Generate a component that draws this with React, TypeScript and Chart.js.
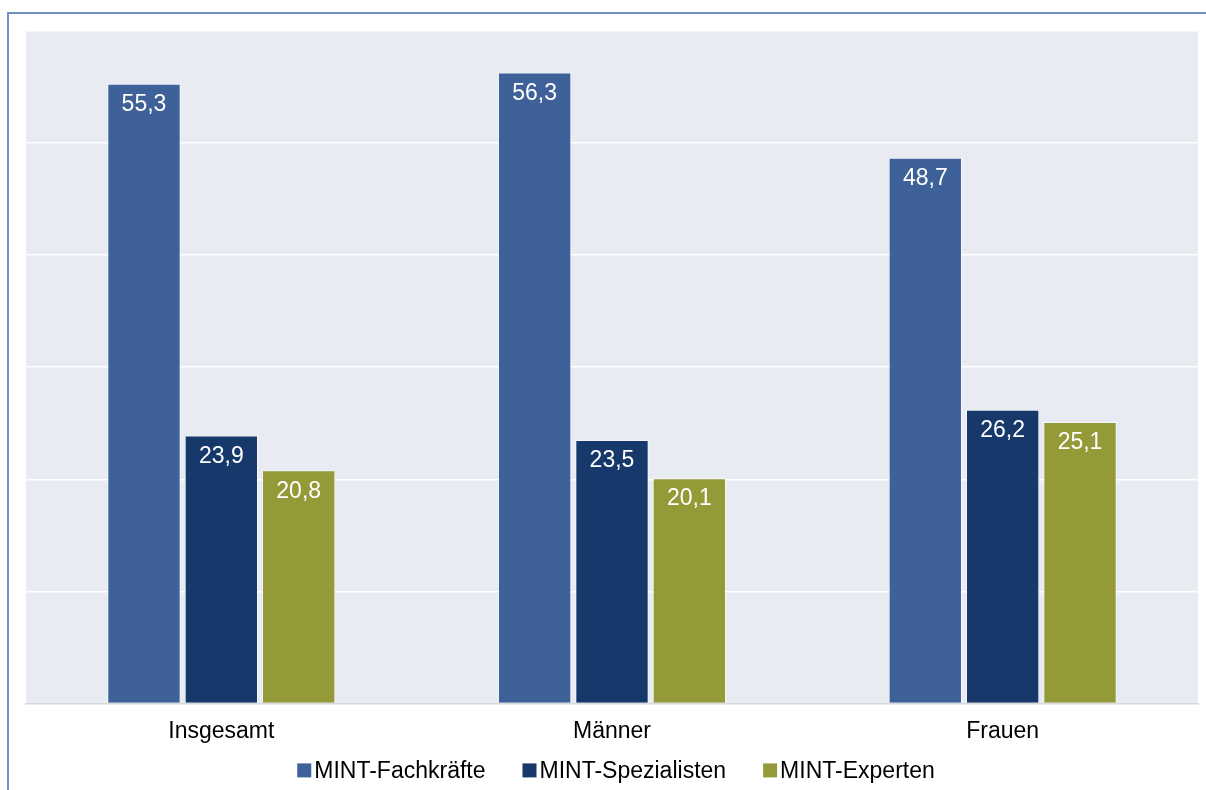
import React, { useEffect, useRef } from "react";
import { Chart, registerables } from "chart.js";

Chart.register(...registerables);

const categories = ["Insgesamt", "Männer", "Frauen"];
const seriesNames = ["MINT-Fachkräfte", "MINT-Spezialisten", "MINT-Experten"];
const fachkraefte = [55.3, 56.3, 48.7];
const spezialisten = [23.9, 23.5, 26.2];
const experten = [20.8, 20.1, 25.1];
const seriesColors = ["#3e6199", "#17386a", "#959a39"];
const yMin = 0;
const yMax = 60;
const yStep = 10;

const FONT = "'Liberation Sans', Arial, sans-serif";

const framePlugin = {
  id: "frame",
  beforeDraw(chart: any) {
    const { ctx, chartArea, width, height } = chart;
    ctx.save();
    ctx.fillStyle = "#ffffff";
    ctx.fillRect(0, 0, width, height);
    ctx.fillStyle = "#7090c2";
    ctx.fillRect(7, 12, width - 7, 2);
    ctx.fillRect(7, 12, 2, height - 12);
    ctx.fillStyle = "#e9ebf3";
    ctx.fillRect(chartArea.left, chartArea.top, chartArea.right - chartArea.left, chartArea.bottom - chartArea.top);
    ctx.restore();
  },
};

const valueLabelPlugin = {
  id: "valueLabels",
  afterDatasetsDraw(chart: any) {
    const { ctx } = chart;
    ctx.save();
    ctx.font = `23px ${FONT}`;
    ctx.fillStyle = "#ffffff";
    ctx.textAlign = "center";
    ctx.textBaseline = "middle";
    chart.data.datasets.forEach((ds: any, i: number) => {
      const meta = chart.getDatasetMeta(i);
      meta.data.forEach((bar: any, j: number) => {
        const v = ds.data[j];
        ctx.fillText(v.toFixed(1).replace(".", ","), bar.x, bar.y + 21);
      });
    });
    ctx.restore();
  },
};

const legendPlugin = {
  id: "customLegend",
  afterDraw(chart: any) {
    const { ctx, chartArea } = chart;
    ctx.save();
    ctx.font = `23px ${FONT}`;
    const box = 14;
    const gapText = 3;
    const gapItem = 37;
    const items = chart.data.datasets.map((d: any) => ({
      label: d.label,
      color: d.backgroundColor,
      w: ctx.measureText(d.label).width,
    }));
    const total =
      items.reduce((s: number, it: any) => s + box + gapText + it.w, 0) + gapItem * (items.length - 1);
    let x = (chartArea.left + chartArea.right) / 2 - total / 2 + 4;
    const y = chartArea.bottom + 67;
    ctx.textBaseline = "middle";
    ctx.textAlign = "left";
    items.forEach((it: any) => {
      ctx.fillStyle = it.color;
      ctx.fillRect(x, y - 7, box, box);
      ctx.fillStyle = "#000000";
      ctx.fillText(it.label, x + box + gapText, y + 1);
      x += box + gapText + it.w + gapItem;
    });
    ctx.restore();
  },
};

export default function App() {
  const ref = useRef<HTMLCanvasElement>(null);

  useEffect(() => {
    if (!ref.current) return;
    const seriesData = [fachkraefte, spezialisten, experten];
    const chart = new Chart(ref.current, {
      type: "bar",
      data: {
        labels: categories,
        datasets: seriesNames.map((name, i) => ({
          label: name,
          data: seriesData[i],
          backgroundColor: seriesColors[i],
          borderColor: "rgba(255,255,255,0.55)",
          borderWidth: 1,
          categoryPercentage: 0.594,
          barPercentage: 0.948,
        })),
      },
      options: {
        responsive: false,
        animation: false,
        layout: { padding: { left: 26, right: 8, top: 31, bottom: 31 } },
        plugins: {
          legend: { display: false },
          tooltip: { enabled: false },
          title: { display: false },
        },
        scales: {
          x: {
            grid: { display: false, drawTicks: false },
            border: { display: true, color: "#d6d8dc", width: 1.5 },
            ticks: { color: "#000000", font: { family: FONT, size: 23 }, padding: 14 },
          },
          y: {
            min: yMin,
            max: yMax,
            ticks: { display: false, stepSize: yStep },
            grid: { color: "#ffffff", lineWidth: 1.5, drawTicks: false },
            border: { display: false },
          },
        },
      },
      plugins: [framePlugin, valueLabelPlugin, legendPlugin],
    });
    return () => chart.destroy();
  }, []);

  return (
    <div style={{ position: "fixed", left: 0, top: 0, width: 1206, height: 790 }}>
      <canvas ref={ref} width={1206} height={790} style={{ width: 1206, height: 790, display: "block" }} />
    </div>
  );
}
